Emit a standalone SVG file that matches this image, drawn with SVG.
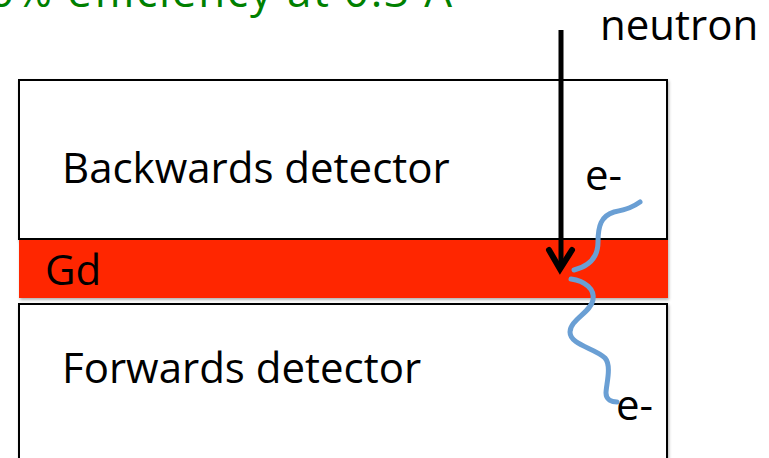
<svg xmlns="http://www.w3.org/2000/svg" width="769" height="458" viewBox="0 0 769 458">
<defs>
<style>
.lbl{font-family:"Open Sans","Liberation Sans",sans-serif;font-size:42px;fill:#000}
.box{fill:#fff;stroke:#000;stroke-width:2}
.wave{fill:none;stroke:#6A9FD4;stroke-width:5;stroke-linecap:round}
</style>
<filter id="sh" x="-5%" y="-5%" width="110%" height="115%"><feDropShadow dx="1" dy="2" stdDeviation="1.5" flood-color="#000" flood-opacity="0.3"/></filter>
</defs>
<rect width="769" height="458" fill="#fff"/>
<text x="-38" y="7" textLength="490" lengthAdjust="spacing" font-family="'Open Sans','Liberation Sans',sans-serif" font-size="44" fill="#008000">30% efficiency at 0.3 A</text>
<g id="backwards">
<rect class="box" x="19" y="80" width="648" height="159" filter="url(#sh)"/>
<text class="lbl" x="62" y="183">Backwards detector</text>
</g>
<g id="gd">
<rect x="19" y="240" width="649" height="58" fill="#FF2800" filter="url(#sh)"/>
<text class="lbl" x="45" y="285">Gd</text>
</g>
<g id="forwards">
<rect class="box" x="19" y="304" width="648" height="170" filter="url(#sh)"/>
<text class="lbl" x="62" y="383">Forwards detector</text>
</g>
<g id="neutron"><text class="lbl" x="600" y="40" font-size="41">neutron</text></g>
<g id="e1"><text class="lbl" x="585" y="190">e-</text></g>
<g id="e2"><text class="lbl" x="616" y="420">e-</text></g>
<g id="connectors">
<line x1="561" y1="30" x2="561" y2="268" stroke="#000" stroke-width="5"/>
<polyline points="549,250 560,269 572,250" fill="none" stroke="#000" stroke-width="6" stroke-linecap="round" stroke-linejoin="miter"/>
<path class="wave" d="M574,270 C590,266 598,256 598,242 C598,226 601,216 614,212 C628,209 633,207 640,202"/>
<path class="wave" d="M571,279 C585,281 595,289 593,300 C591,312 570,320 570,332 C570,345 595,348 605,358 C612,366 606,385 606,393 C606,400 612,402 617,402"/>
</g>
</svg>
